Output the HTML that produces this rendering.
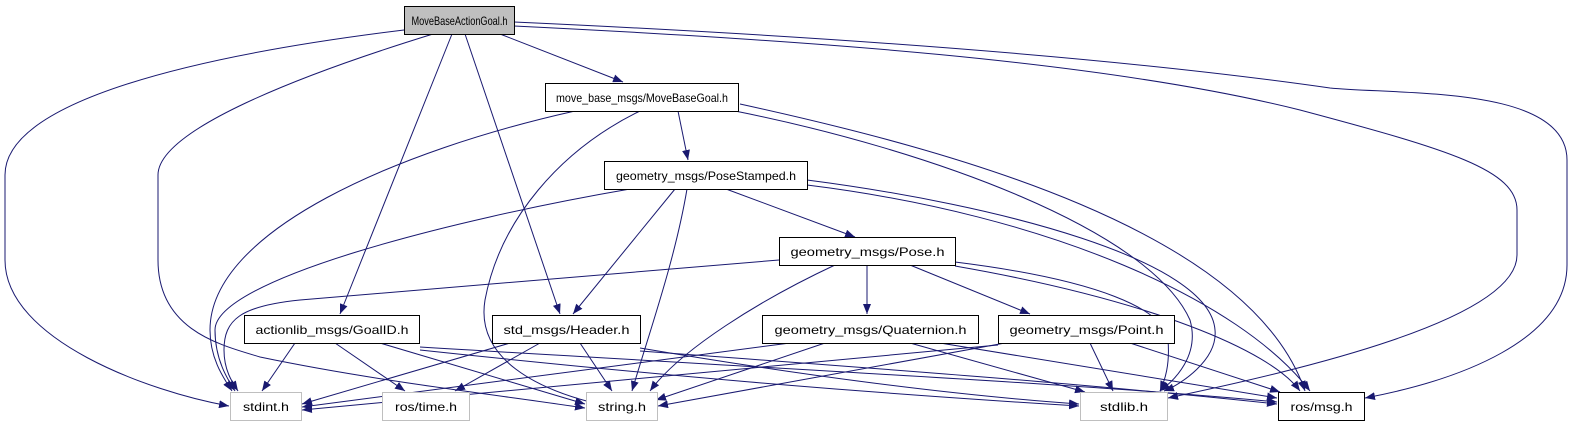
<!DOCTYPE html>
<html><head><meta charset="utf-8"><style>
html,body{margin:0;padding:0;background:#fff;}
svg{display:block;}
text{font-family:"Liberation Sans",sans-serif;font-size:12px;fill:#000;}
</style></head><body>
<svg width="1573" height="427" viewBox="0 0 1573 427" xmlns="http://www.w3.org/2000/svg">
<defs>
<marker id="a" markerUnits="userSpaceOnUse" markerWidth="11" markerHeight="8" refX="10" refY="4" orient="auto">
<path d="M0,0 L10,4 L0,8 z" fill="#191970"/>
</marker>
</defs>
<g fill="none" stroke="#191970" stroke-width="1" marker-end="url(#a)">
<path d="M404,30 C200,55 5,100 5,175 L5,260 C5,340 150,392 229,406"/>
<path d="M433,34 C300,75 158,130 158,175 L158,260 C158,330 220,345 260,357 C380,382 500,395 585,408"/>
<path d="M452,34 L340,314"/>
<path d="M465,34 L560,314"/>
<path d="M500,34 L623,82"/>
<path d="M514,26 C800,40 1100,60 1300,110 C1450,150 1517,170 1517,210 L1517,255 C1517,320 1300,370 1168,398"/>
<path d="M514,22 C800,35 1100,55 1330,88 C1400,95 1567,85 1567,160 L1567,265 C1567,340 1460,380 1365,398"/>
<path d="M575,111 C400,150 210,230 210,330 C210,360 225,380 232,391"/>
<path d="M640,111 C560,150 500,220 485,300 C475,360 540,390 598,404"/>
<path d="M678,111 L688,160"/>
<path d="M735,111 C930,150 1150,230 1190,320 C1200,355 1175,380 1160,391"/>
<path d="M740,104 C950,150 1250,230 1305,391"/>
<path d="M630,189 C450,220 215,280 215,330 C215,360 228,380 235,391"/>
<path d="M687,189 C675,260 650,330 632,391"/>
<path d="M675,189 L573,314"/>
<path d="M726,189 L855,237"/>
<path d="M807,180 C1000,205 1210,260 1215,330 C1218,360 1180,385 1164,391"/>
<path d="M807,185 C1050,215 1240,300 1310,391"/>
<path d="M779,260 L300,300 C240,306 224,320 224,350 C224,370 232,382 238,391"/>
<path d="M835,265 C760,300 680,350 650,391"/>
<path d="M867,265 L867,314"/>
<path d="M910,265 L1030,314"/>
<path d="M955,262 C1100,280 1165,310 1168,340 C1170,365 1165,380 1160,391"/>
<path d="M955,266 C1150,300 1270,350 1300,391"/>
<path d="M295,343 L262,391"/>
<path d="M335,343 L405,391"/>
<path d="M380,343 L585,404"/>
<path d="M420,350 C700,380 900,395 1079,406"/>
<path d="M420,347 C800,370 1100,385 1277,402"/>
<path d="M510,343 L302,404"/>
<path d="M540,343 L455,391"/>
<path d="M580,343 L612,391"/>
<path d="M640,348 C800,375 950,395 1079,404"/>
<path d="M640,351 C900,370 1100,385 1277,404"/>
<path d="M790,343 L302,407"/>
<path d="M825,343 L656,400"/>
<path d="M910,343 L1085,392"/>
<path d="M940,343 L1277,398"/>
<path d="M998,345 L302,410"/>
<path d="M1005,343 L658,406"/>
<path d="M1090,343 L1113,391"/>
<path d="M1130,343 L1280,392"/>
</g>
<g stroke-width="1">
<rect x="404.5" y="6.5" width="110" height="28" fill="#bfbfbf" stroke="#000"/>
<rect x="545.5" y="83.5" width="193" height="28" fill="#fff" stroke="#000"/>
<rect x="604.5" y="161.5" width="203" height="28" fill="#fff" stroke="#000"/>
<rect x="779.5" y="237.5" width="176" height="28" fill="#fff" stroke="#000"/>
<rect x="244.5" y="315.5" width="175" height="28" fill="#fff" stroke="#000"/>
<rect x="492.5" y="315.5" width="148" height="28" fill="#fff" stroke="#000"/>
<rect x="762.5" y="315.5" width="216" height="28" fill="#fff" stroke="#000"/>
<rect x="998.5" y="315.5" width="176" height="28" fill="#fff" stroke="#000"/>
<rect x="230.5" y="392.5" width="71" height="28" fill="#fff" stroke="#bfbfbf"/>
<rect x="382.5" y="392.5" width="87" height="28" fill="#fff" stroke="#bfbfbf"/>
<rect x="586.5" y="392.5" width="71" height="28" fill="#fff" stroke="#bfbfbf"/>
<rect x="1080.5" y="392.5" width="87" height="28" fill="#fff" stroke="#bfbfbf"/>
<rect x="1278.5" y="392.5" width="86" height="28" fill="#fff" stroke="#000"/>
</g>
<g text-anchor="middle">
<text x="459.5" y="25" textLength="96" lengthAdjust="spacingAndGlyphs">MoveBaseActionGoal.h</text>
<text x="642" y="102" textLength="172" lengthAdjust="spacingAndGlyphs">move_base_msgs/MoveBaseGoal.h</text>
<text x="706" y="180" textLength="180" lengthAdjust="spacingAndGlyphs">geometry_msgs/PoseStamped.h</text>
<text x="867.5" y="256" textLength="154" lengthAdjust="spacingAndGlyphs">geometry_msgs/Pose.h</text>
<text x="332" y="334" textLength="153" lengthAdjust="spacingAndGlyphs">actionlib_msgs/GoalID.h</text>
<text x="566.5" y="334" textLength="126" lengthAdjust="spacingAndGlyphs">std_msgs/Header.h</text>
<text x="870.5" y="334" textLength="192" lengthAdjust="spacingAndGlyphs">geometry_msgs/Quaternion.h</text>
<text x="1086.5" y="334" textLength="154" lengthAdjust="spacingAndGlyphs">geometry_msgs/Point.h</text>
<text x="266" y="411" textLength="46" lengthAdjust="spacingAndGlyphs">stdint.h</text>
<text x="426" y="411" textLength="62" lengthAdjust="spacingAndGlyphs">ros/time.h</text>
<text x="622" y="411" textLength="48" lengthAdjust="spacingAndGlyphs">string.h</text>
<text x="1124" y="411" textLength="48" lengthAdjust="spacingAndGlyphs">stdlib.h</text>
<text x="1321.5" y="411" textLength="62" lengthAdjust="spacingAndGlyphs">ros/msg.h</text>
</g>
</svg>
</body></html>
